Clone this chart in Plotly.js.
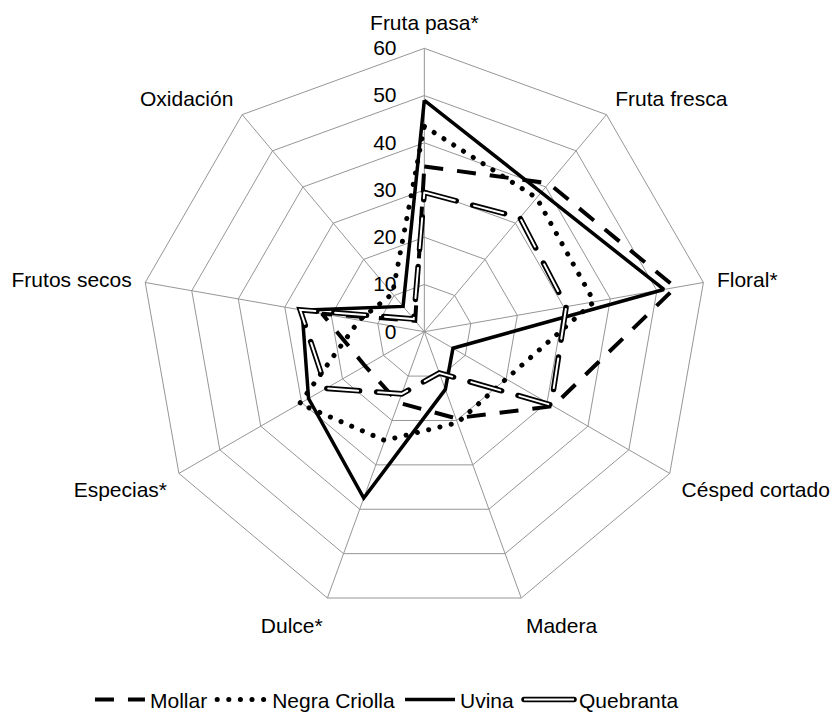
<!DOCTYPE html>
<html>
<head>
<meta charset="utf-8">
<script src="https://cdn.plot.ly/plotly-3.0.1.min.js"></script>
<style>html,body{margin:0;padding:0;background:#fff;}#chart{width:833px;height:716px;}</style>
</head>
<body>
<div id="chart"></div>
<script>
var categories = ["Fruta pasa*", "Fruta fresca", "Floral*", "Césped cortado", "Madera", "Dulce*", "Especias*", "Frutos secos", "Oxidación"];
var mollar = [35, 41, 54, 31.5, 19.5, 16, 14.5, 22, 3];
var negraCriolla = [43.5, 37, 36.5, 20, 20.5, 24.5, 30.5, 14, 10.5];
var uvina = [49, 38.5, 51.5, 7, 13, 37.5, 28.3, 26.3, 7];
var quebranta = [29.5, 31.5, 30.5, 31, 9.3, 14, 24, 26.7, 3.5];
var seriesNames = ["Mollar", "Negra Criolla", "Uvina", "Quebranta"];
var radialTicks = [0, 10, 20, 30, 40, 50, 60];

function closeLoop(a) { return a.concat([a[0]]); }
var theta = closeLoop(categories);
var FONT = "Liberation Sans, Arial, sans-serif";

var traces = [
  {type: "scatterpolar", mode: "lines", name: seriesNames[0], r: closeLoop(mollar), theta: theta,
   line: {color: "#000", width: 4, dash: "19px,14px"}},
  {type: "scatterpolar", mode: "lines", name: seriesNames[1], r: closeLoop(negraCriolla), theta: theta,
   line: {color: "#000", width: 5, dash: "0.1px,11.5px"}},
  {type: "scatterpolar", mode: "lines", name: seriesNames[2], r: closeLoop(uvina), theta: theta,
   line: {color: "#000", width: 3.5}},
  {type: "scatterpolar", mode: "lines", name: seriesNames[3], r: closeLoop(quebranta), theta: theta,
   line: {color: "#000", width: 5.5, dash: "33px,17px"}},
  {type: "scatterpolar", mode: "lines", name: seriesNames[3], showlegend: false, r: closeLoop(quebranta), theta: theta,
   line: {color: "#fff", width: 2, dash: "30px,20px"}}
];

var layout = {
  width: 833, height: 716,
  margin: {l: 0, r: 0, t: 0, b: 0, autoexpand: false},
  paper_bgcolor: "#fff",
  font: {family: FONT, size: 21, color: "#000"},
  showlegend: true,
  legend: {orientation: "h", x: 0.108, xanchor: "left", y: -0.006, yanchor: "bottom",
           itemwidth: 50,
           font: {family: FONT, size: 21, color: "#000"}, traceorder: "normal"},
  polar: {
    domain: {x: [0.1692, 0.8496], y: [0.1409, 0.9325]},
    gridshape: "linear",
    bgcolor: "#fff",
    angularaxis: {type: "category", direction: "clockwise", rotation: 90,
      showline: true, linecolor: "#969696", linewidth: 1,
      showgrid: true, gridcolor: "#969696", gridwidth: 1,
      ticks: "outside", ticklen: 9, tickcolor: "rgba(0,0,0,0)",
      tickfont: {family: FONT, size: 21, color: "#000"}},
    radialaxis: {range: [0, 60], tickvals: radialTicks, ticktext: radialTicks.map(String),
      angle: 90, side: "counterclockwise", showline: false,
      showgrid: true, gridcolor: "#969696", gridwidth: 1,
      ticks: "outside", ticklen: 20, tickcolor: "rgba(0,0,0,0)", tickangle: 90,
      tickfont: {family: FONT, size: 21, color: "#000"}}
  }
};

Plotly.newPlot("chart", traces, layout, {staticPlot: true}).then(function(gd) {
  var lines = gd.querySelectorAll(".scatterlayer .trace path.js-line");
  if (lines[1]) lines[1].style.strokeLinecap = "round";
  if (lines[3]) lines[3].style.strokeLinecap = "round";
  if (lines[4]) { lines[4].style.strokeLinecap = "round"; lines[4].style.strokeDashoffset = "-1.5px"; }
  var legTraces = gd.querySelectorAll(".legend .traces");
  if (legTraces[1]) { var p1 = legTraces[1].querySelector(".legendlines path"); if (p1) p1.style.strokeLinecap = "round"; }
  if (legTraces[3]) {
    var p3 = legTraces[3].querySelector(".legendlines path");
    if (p3) {
      p3.style.strokeDasharray = "none"; p3.style.strokeLinecap = "round";
      var inner = p3.cloneNode(true);
      inner.style.stroke = "#fff"; inner.style.strokeWidth = "2px"; inner.style.strokeLinecap = "butt";
      p3.parentNode.appendChild(inner);
    }
  }
});
</script>
</body>
</html>
